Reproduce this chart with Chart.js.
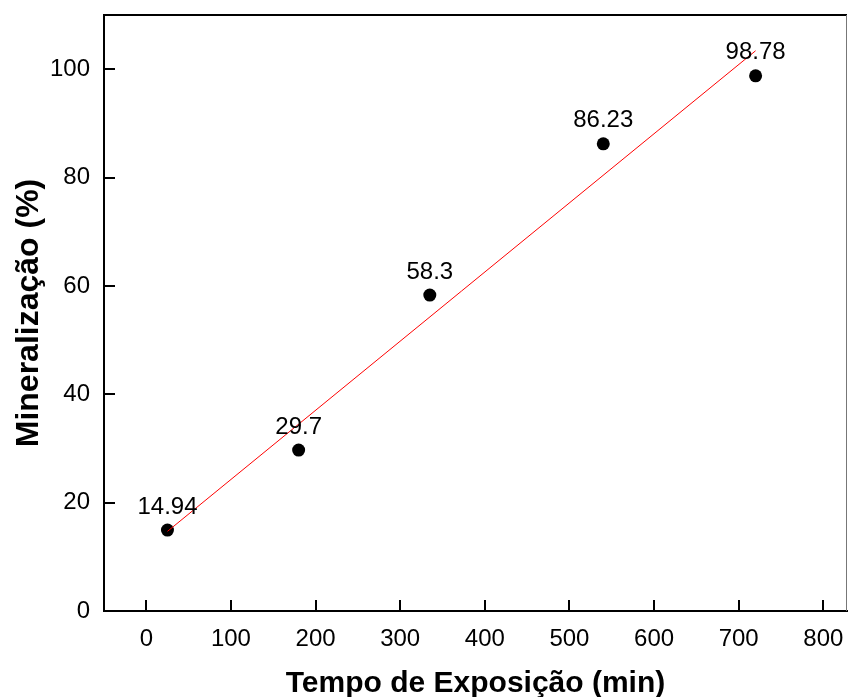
<!DOCTYPE html>
<html>
<head>
<meta charset="utf-8">
<script src="https://cdn.jsdelivr.net/npm/chart.js@4"></script>
<style>
  html, body { margin: 0; padding: 0; background: #fff; }
  #chart { display: block; }
</style>
</head>
<body>
<canvas id="chart" width="848" height="697"></canvas>
<script>
// exposure time (min) and mineralization (%)
const tempos = [25, 180, 335, 540, 720];
const mineralizacao = [14.94, 29.7, 58.3, 86.23, 98.78];

// linear fit, end points
const ajusteX = [25, 720];
const ajusteY = [14.7, 103.4];

const xTicks = [0, 100, 200, 300, 400, 500, 600, 700, 800];
const yTicks = [0, 20, 40, 60, 80, 100];

const fontFamily = "'Liberation Sans', Arial, sans-serif";

// frame: top and right edges plus inward tick marks
const framePlugin = {
  id: 'frame',
  afterDraw(chart) {
    const { ctx, chartArea: a, scales: { x, y } } = chart;
    ctx.save();
    ctx.strokeStyle = '#000';
    ctx.lineWidth = 2;
    ctx.beginPath();
    ctx.moveTo(a.left - 1, a.top);
    ctx.lineTo(a.right, a.top);
    ctx.stroke();

    ctx.strokeStyle = '#777';
    ctx.lineWidth = 1;
    ctx.beginPath();
    ctx.moveTo(a.right - 0.5, a.top);
    ctx.lineTo(a.right - 0.5, a.bottom);
    ctx.stroke();

    ctx.strokeStyle = '#000';
    ctx.lineWidth = 2;
    ctx.beginPath();
    xTicks.forEach(v => {
      const px = Math.round(x.getPixelForValue(v));
      ctx.moveTo(px, a.bottom);
      ctx.lineTo(px, a.bottom - 11);
    });
    yTicks.forEach(v => {
      const py = Math.round(y.getPixelForValue(v));
      ctx.moveTo(a.left, py);
      ctx.lineTo(a.left + 11, py);
    });
    ctx.stroke();
    ctx.restore();
  }
};

// value labels above the points
const valueLabels = {
  id: 'valueLabels',
  afterDatasetsDraw(chart) {
    const { ctx } = chart;
    const meta = chart.getDatasetMeta(1);
    ctx.save();
    ctx.fillStyle = '#000';
    ctx.font = '24px ' + fontFamily;
    ctx.textAlign = 'center';
    ctx.textBaseline = 'middle';
    meta.data.forEach((pt, i) => {
      ctx.fillText(String(mineralizacao[i]), pt.x, pt.y - 23);
    });
    ctx.restore();
  }
};

new Chart(document.getElementById('chart'), {
  type: 'scatter',
  data: {
    datasets: [
      {
        type: 'line',
        data: ajusteX.map((v, i) => ({ x: v, y: ajusteY[i] })),
        borderColor: '#ff0000',
        borderWidth: 1,
        pointRadius: 0,
        fill: false
      },
      {
        data: tempos.map((v, i) => ({ x: v, y: mineralizacao[i] })),
        backgroundColor: '#000',
        borderColor: '#000',
        pointRadius: 6.5,
        borderWidth: 0
      }
    ]
  },
  options: {
    responsive: false,
    devicePixelRatio: 1,
    animation: false,
    layout: {
      autoPadding: false,
      padding: { top: 15, right: 1, left: 0, bottom: 0 }
    },
    plugins: {
      legend: { display: false },
      tooltip: { enabled: false }
    },
    scales: {
      x: {
        type: 'linear',
        min: -50,
        max: 828,
        afterBuildTicks: s => { s.ticks = xTicks.map(v => ({ value: v })); },
        afterFit: s => {
          s.height = 86;
          s.paddingLeft = 0;
          s.paddingRight = 0;
        },
        grid: { display: false },
        border: { color: '#000', width: 2 },
        ticks: {
          color: '#000',
          padding: 6,
          font: { family: fontFamily, size: 24 }
        },
        title: {
          display: true,
          text: 'Tempo de Exposição (min)',
          color: '#000',
          padding: { top: 0, bottom: -2 },
          font: { family: fontFamily, size: 30, weight: 'bold', lineHeight: 1 }
        }
      },
      y: {
        min: 0,
        max: 110,
        afterBuildTicks: s => { s.ticks = yTicks.map(v => ({ value: v })); },
        afterFit: s => {
          s.width = 104;
          s.paddingTop = 0;
          s.paddingBottom = 0;
        },
        grid: { display: false },
        border: { color: '#000', width: 2 },
        ticks: {
          color: '#000',
          padding: 6,
          font: { family: fontFamily, size: 24 }
        },
        title: {
          display: true,
          text: 'Mineralização (%)',
          color: '#000',
          padding: { top: 13, bottom: 0 },
          font: { family: fontFamily, size: 32, weight: 'bold', lineHeight: 1 }
        }
      }
    }
  },
  plugins: [framePlugin, valueLabels]
});
</script>
</body>
</html>
